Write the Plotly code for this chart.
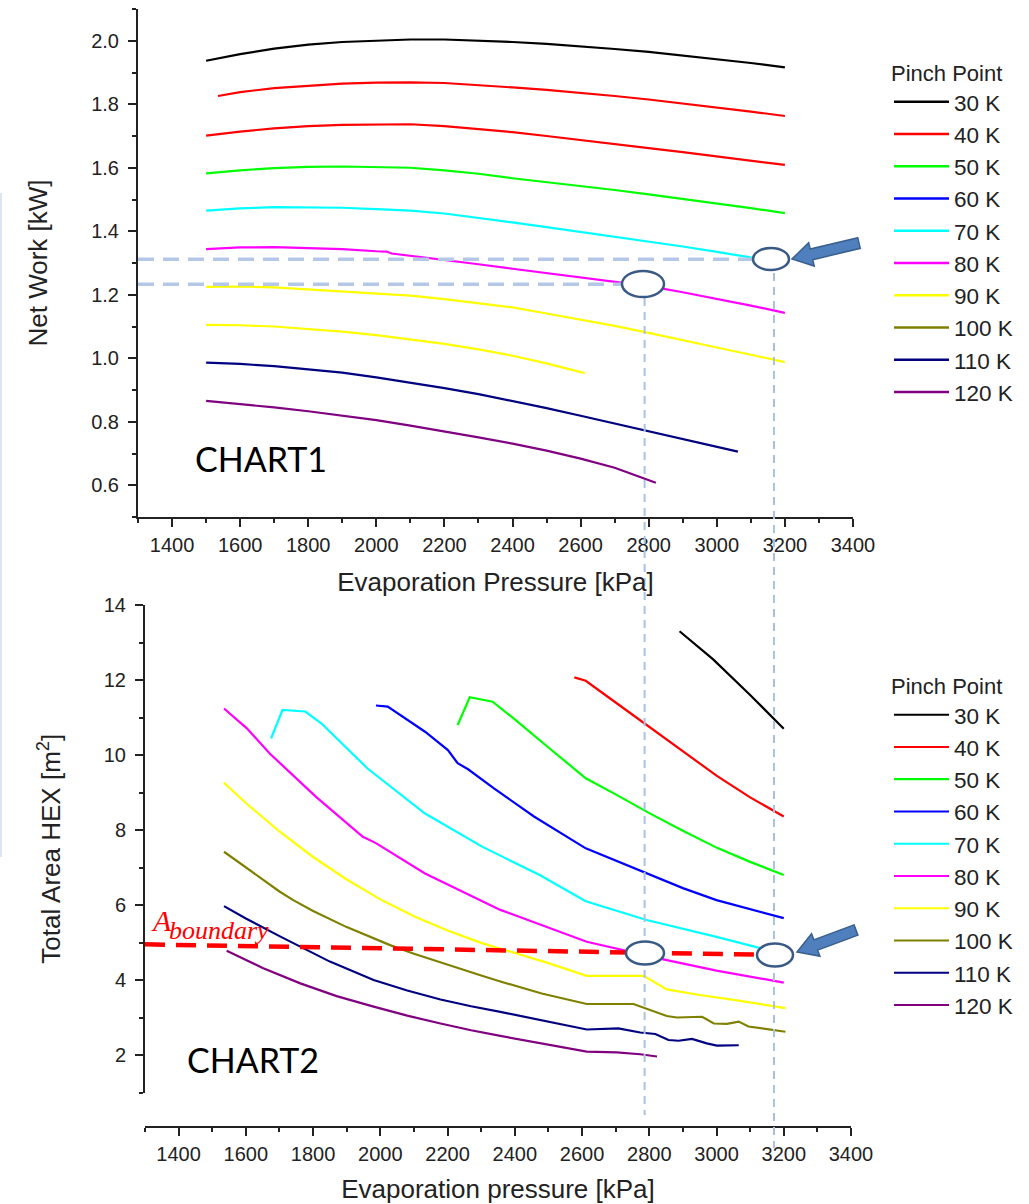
import plotly.graph_objects as go

W, H = 1029, 1204

# ---------------- data ----------------
pinch_labels = ["30 K", "40 K", "50 K", "60 K", "70 K", "80 K", "90 K", "100 K", "110 K", "120 K"]
legend_colors = ["#000000", "#ff0000", "#00ff00", "#0000ff", "#00ffff",
                 "#ff00ff", "#ffff00", "#808000", "#000080", "#800080"]
# colours actually used for the curves of chart 1 (as drawn in the source)
top_line_colors = ["#000000", "#ff0000", "#ff0000", "#00ff00", "#00ffff",
                   "#ff00ff", "#ffff00", "#ffff00", "#000080", "#800080"]

p_std = [1500, 1600, 1700, 1800, 1900, 2000, 2100, 2200, 2300, 2400,
         2500, 2600, 2700, 2800, 2900, 3000, 3100, 3200]

# Chart 1: net work [kW]
top_30_x = p_std
top_30_y = [1.937, 1.958, 1.975, 1.988, 1.996, 2.001, 2.004, 2.004, 2.001, 1.996,
            1.990, 1.983, 1.974, 1.965, 1.954, 1.943, 1.930, 1.916]
top_40_x = [1535] + p_std[1:]
top_40_y = [1.826, 1.838, 1.851, 1.859, 1.865, 1.868, 1.869, 1.867, 1.861, 1.853,
            1.845, 1.836, 1.826, 1.815, 1.803, 1.790, 1.777, 1.763]
top_50_x = p_std
top_50_y = [1.701, 1.714, 1.724, 1.731, 1.735, 1.737, 1.737, 1.731, 1.722, 1.712,
            1.700, 1.688, 1.675, 1.662, 1.649, 1.636, 1.622, 1.609]
top_60_x = p_std
top_60_y = [1.582, 1.592, 1.599, 1.603, 1.604, 1.603, 1.600, 1.592, 1.581, 1.567,
            1.555, 1.543, 1.530, 1.516, 1.502, 1.488, 1.473, 1.457]
top_70_x = p_std
top_70_y = [1.465, 1.472, 1.476, 1.476, 1.474, 1.470, 1.465, 1.456, 1.443, 1.428,
            1.413, 1.398, 1.383, 1.368, 1.352, 1.335, 1.318, 1.300]
top_80_x = [1500, 1600, 1700, 1800, 1900, 2000, 2030, 2045, 2100, 2200, 2300, 2400,
            2500, 2600, 2700, 2800, 2900, 3000, 3100, 3200]
top_80_y = [1.344, 1.349, 1.350, 1.348, 1.344, 1.337, 1.336, 1.330, 1.323, 1.309, 1.296, 1.282,
            1.268, 1.254, 1.241, 1.227, 1.208, 1.188, 1.166, 1.143]
top_90_x = p_std
top_90_y = [1.225, 1.226, 1.223, 1.217, 1.211, 1.205, 1.197, 1.186, 1.174, 1.160,
            1.141, 1.122, 1.102, 1.080, 1.058, 1.034, 1.011, 0.988]
top_100_x = [1500, 1600, 1700, 1800, 1900, 2000, 2100, 2200, 2300, 2400, 2500, 2612]
top_100_y = [1.105, 1.104, 1.100, 1.093, 1.084, 1.073, 1.060, 1.045, 1.028, 1.008, 0.984, 0.953]
top_110_x = [1500, 1600, 1700, 1800, 1900, 2000, 2100, 2200, 2300, 2400, 2500, 2600,
             2700, 2800, 2900, 3000, 3062]
top_110_y = [0.986, 0.982, 0.975, 0.966, 0.955, 0.940, 0.924, 0.906, 0.887, 0.866, 0.843, 0.819,
             0.795, 0.770, 0.746, 0.721, 0.706]
top_120_x = [1500, 1600, 1700, 1800, 1900, 2000, 2100, 2200, 2300, 2400, 2500, 2600, 2700, 2821]
top_120_y = [0.866, 0.856, 0.845, 0.833, 0.820, 0.805, 0.788, 0.770, 0.751, 0.731, 0.709, 0.684,
             0.655, 0.608]

# Chart 2: total HEX area [m2]
bot_30_x = [2890, 2990, 3100, 3200]
bot_30_y = [13.3, 12.55, 11.6, 10.7]
bot_40_x = [2577, 2611, 2700, 2800, 2900, 3000, 3100, 3200]
bot_40_y = [12.07, 11.98, 11.4, 10.75, 10.1, 9.45, 8.87, 8.36]
bot_50_x = [2230, 2266, 2334, 2400, 2500, 2611, 2700, 2800, 2900, 3000, 3100, 3200]
bot_50_y = [10.8, 11.54, 11.42, 10.95, 10.2, 9.38, 8.95, 8.45, 7.98, 7.53, 7.15, 6.8]
bot_60_x = [1987, 2022, 2133, 2201, 2230, 2261, 2338, 2457, 2611, 2782, 2900, 3000, 3100, 3200]
bot_60_y = [11.32, 11.29, 10.62, 10.13, 9.78, 9.62, 9.11, 8.36, 7.51, 6.89, 6.45, 6.13, 5.88, 5.65]
bot_70_x = [1675, 1709, 1777, 1825, 1962, 2133, 2304, 2474, 2611, 2792, 3000, 3130, 3200]
bot_70_y = [10.44, 11.2, 11.16, 10.84, 9.64, 8.44, 7.55, 6.8, 6.1, 5.6, 5.15, 4.85, 4.72]
bot_80_x = [1535, 1603, 1671, 1808, 1948, 1987, 2133, 2357, 2614, 2743, 2852, 3000, 3100, 3200]
bot_80_y = [11.24, 10.71, 10.04, 8.89, 7.82, 7.65, 6.84, 5.87, 5.02, 4.75, 4.53, 4.25, 4.08, 3.93]
bot_90_x = [1535, 1600, 1700, 1800, 1900, 2000, 2100, 2200, 2300, 2357, 2500, 2614, 2783,
            2852, 2950, 3051, 3130, 3205]
bot_90_y = [9.26, 8.72, 7.96, 7.28, 6.68, 6.15, 5.70, 5.32, 4.99, 4.84, 4.45, 4.11, 4.11,
            3.75, 3.60, 3.47, 3.35, 3.25]
bot_100_x = [1535, 1600, 1700, 1741, 1800, 1900, 2029, 2100, 2200, 2300, 2357, 2480, 2614,
             2753, 2852, 2882, 2957, 2992, 3031, 3066, 3095, 3205]
bot_100_y = [7.42, 7.0, 6.36, 6.13, 5.84, 5.41, 4.93, 4.70, 4.40, 4.12, 3.96, 3.64, 3.36,
             3.36, 3.04, 3.0, 3.02, 2.84, 2.83, 2.89, 2.76, 2.62]
bot_110_x = [1535, 1600, 1700, 1762, 1850, 1980, 2080, 2179, 2270, 2357, 2480, 2614, 2708,
             2773, 2818, 2857, 2887, 2927, 2971, 3001, 3066]
bot_110_y = [5.97, 5.64, 5.17, 4.89, 4.49, 4.0, 3.72, 3.48, 3.30, 3.15, 2.92, 2.68, 2.71,
             2.6, 2.56, 2.4, 2.38, 2.43, 2.31, 2.25, 2.26]
bot_120_x = [1543, 1650, 1762, 1870, 1980, 2080, 2179, 2270, 2357, 2480, 2614, 2703, 2773, 2823]
bot_120_y = [4.78, 4.32, 3.91, 3.57, 3.29, 3.05, 2.84, 2.66, 2.51, 2.30, 2.09, 2.07, 2.02, 1.96]

# boundary area line and selected operating points
a_boundary_x = [1300, 3170]
a_boundary_y = [4.95, 4.67]
work_marks_y = [1.312, 1.233]
work_marks_x = [3168, 2788]

top_x = [top_30_x, top_40_x, top_50_x, top_60_x, top_70_x, top_80_x, top_90_x, top_100_x, top_110_x, top_120_x]
top_y = [top_30_y, top_40_y, top_50_y, top_60_y, top_70_y, top_80_y, top_90_y, top_100_y, top_110_y, top_120_y]
bot_x = [bot_30_x, bot_40_x, bot_50_x, bot_60_x, bot_70_x, bot_80_x, bot_90_x, bot_100_x, bot_110_x, bot_120_x]
bot_y = [bot_30_y, bot_40_y, bot_50_y, bot_60_y, bot_70_y, bot_80_y, bot_90_y, bot_100_y, bot_110_y, bot_120_y]


# ---------------- helpers (pixel -> paper) ----------------
def px(x):
    return x / W


def py(y):
    return 1 - y / H


FONT = "Liberation Sans, Arial, sans-serif"
fig = go.Figure()

# Chart 1 curves
for name, xs, ys, col in zip(pinch_labels, top_x, top_y, top_line_colors):
    fig.add_trace(go.Scatter(x=xs, y=ys, mode="lines", name=name, showlegend=False,
                             line=dict(color=col, width=2.2), xaxis="x", yaxis="y"))
# legend entries of chart 1
for name, col in zip(pinch_labels, legend_colors):
    fig.add_trace(go.Scatter(x=[None], y=[None], mode="lines", name=name, legend="legend",
                             line=dict(color=col, width=2.6), xaxis="x", yaxis="y"))
# Chart 2 curves
for name, xs, ys, col in zip(pinch_labels, bot_x, bot_y, legend_colors):
    fig.add_trace(go.Scatter(x=xs, y=ys, mode="lines", name=name, legend="legend2",
                             line=dict(color=col, width=2.2), xaxis="x2", yaxis="y2"))

axis_common = dict(showline=True, linecolor="#222", linewidth=2, ticks="outside", ticklen=8,
                   tickwidth=1.6, tickcolor="#222", showgrid=False, zeroline=False,
                   automargin=False,
                   tickfont=dict(family=FONT, size=20, color="#222"),
                   title_font=dict(family=FONT, size=26, color="#222"))
minor_common = dict(ticks="outside", ticklen=4, tickcolor="#222", tickwidth=1.6)
legend_common = dict(xanchor="left", yanchor="top", bgcolor="rgba(0,0,0,0)",
                     font=dict(family=FONT, size=22.5, color="#222"), itemwidth=55,
                     title=dict(text="Pinch Point", font=dict(family=FONT, size=22, color="#222")))

fig.update_layout(
    width=W, height=H, margin=dict(l=0, r=0, t=0, b=0, autoexpand=False),
    paper_bgcolor="white", plot_bgcolor="white", showlegend=True,
    xaxis=dict(domain=[px(138), px(853)], range=[1300, 3400], dtick=200, tick0=1400,
               minor=dict(dtick=100, **minor_common), ticklabelstandoff=1,
               title=dict(text="Evaporation Pressure [kPa]", standoff=18), anchor="y", **axis_common),
    yaxis=dict(domain=[py(517), py(9)], range=[0.5, 2.1], dtick=0.2, tick0=0, tickformat=".1f",
               minor=dict(dtick=0.1, **minor_common), ticklabelstandoff=5,
               title=dict(text="Net Work [kW]", standoff=36), anchor="x", **axis_common),
    xaxis2=dict(domain=[px(145), px(851)], range=[1300, 3400], dtick=200, tick0=1400,
                minor=dict(dtick=100, **minor_common), ticklabelstandoff=1,
                title=dict(text="Evaporation pressure [kPa]", standoff=18),
                anchor="free", position=py(1127), **axis_common),
    yaxis2=dict(domain=[py(1092.5), py(605)], range=[1, 14], dtick=2, tick0=0,
                minor=dict(dtick=1, **minor_common), ticklabelstandoff=5,
                title=dict(text="Total Area HEX [m<sup>2</sup>]", standoff=36), anchor="x2", **axis_common),
    legend=dict(x=px(889), y=py(52), **legend_common),
    legend2=dict(x=px(889), y=py(665), **legend_common),
)

shapes = []
# faint frame remnant at the left edge of the screenshot
shapes.append(dict(type="line", xref="paper", yref="paper", x0=px(1), x1=px(1), y0=py(193), y1=py(857),
                   line=dict(color="#dce6f2", width=2), layer="above"))
# horizontal guide lines in chart 1
for yv, xv in zip(work_marks_y, work_marks_x):
    shapes.append(dict(type="line", xref="x", yref="y", x0=1300, x1=xv, y0=yv, y1=yv,
                       line=dict(color="#b4c7e7", width=3.5, dash="16px,9px"), layer="above"))
# vertical guide lines through both charts
shapes.append(dict(type="line", xref="x", yref="paper", x0=2788, x1=2788, y0=py(284), y1=py(1115),
                   line=dict(color="#a9c2e4", width=2, dash="8px,6px"), layer="above"))
shapes.append(dict(type="line", xref="x", yref="paper", x0=3168, x1=3168, y0=py(259), y1=py(1148),
                   line=dict(color="#a9c2e4", width=2, dash="8px,6px"), layer="above"))
# A boundary line
shapes.append(dict(type="line", xref="x2", yref="y2", x0=a_boundary_x[0], x1=a_boundary_x[1],
                   y0=a_boundary_y[0], y1=a_boundary_y[1],
                   line=dict(color="#ff0000", width=4.5, dash="20px,11px"), layer="above"))
# ellipses marking the selected points
for cx, cy, w, h in [(643, 284, 42, 26), (771, 259, 36, 22), (645, 953, 38, 23), (775, 955, 36, 23)]:
    shapes.append(dict(type="circle", xref="paper", yref="paper",
                       x0=px(cx - w / 2), x1=px(cx + w / 2), y0=py(cy + h / 2), y1=py(cy - h / 2),
                       line=dict(color="#3a5a86", width=2.5), fillcolor="white", layer="above"))


# block arrows
def block_arrow(tail, tip, sw=5.5, hw=12, hl=20):
    tx, ty = tail
    hx, hy = tip
    dx, dy = hx - tx, hy - ty
    L = (dx * dx + dy * dy) ** 0.5
    ux, uy = dx / L, dy / L
    nx, ny = -uy, ux
    nkx, nky = hx - ux * hl, hy - uy * hl
    pts = [(tx + nx * sw, ty + ny * sw), (nkx + nx * sw, nky + ny * sw), (nkx + nx * hw, nky + ny * hw),
           (hx, hy), (nkx - nx * hw, nky - ny * hw), (nkx - nx * sw, nky - ny * sw),
           (tx - nx * sw, ty - ny * sw)]
    path = "M " + " L ".join(f"{px(a):.5f},{py(b):.5f}" for a, b in pts) + " Z"
    return dict(type="path", xref="paper", yref="paper", path=path, fillcolor="#4f7fbc",
                line=dict(color="#3a5f8e", width=1.5), layer="above")


shapes.append(block_arrow((859, 243), (792, 259)))
shapes.append(block_arrow((856, 930), (797, 952)))
fig.update_layout(shapes=shapes)

ann_common = dict(xref="paper", yref="paper", showarrow=False, yanchor="middle")
annotations = [
    dict(text="CHART1", x=px(261), y=py(458), xanchor="center",
         font=dict(family="Lato, Carlito, sans-serif", size=34, color="black"), **ann_common),
    dict(text="CHART2", x=px(253), y=py(1059), xanchor="center",
         font=dict(family="Lato, Carlito, sans-serif", size=34, color="black"), **ann_common),
    dict(text="<i>A</i>", x=px(149), y=py(920), xanchor="left",
         font=dict(family="Liberation Serif, serif", size=30, color="#ff0000"), **ann_common),
    dict(text="<i>boundary</i>", x=px(167), y=py(930), xanchor="left",
         font=dict(family="Liberation Serif, serif", size=26, color="#ff0000"), **ann_common),
]
fig.update_layout(annotations=annotations)

fig.write_html("out.html", config={"displayModeBar": False},
               post_script="document.body.style.margin='0';document.body.style.overflow='hidden';")
